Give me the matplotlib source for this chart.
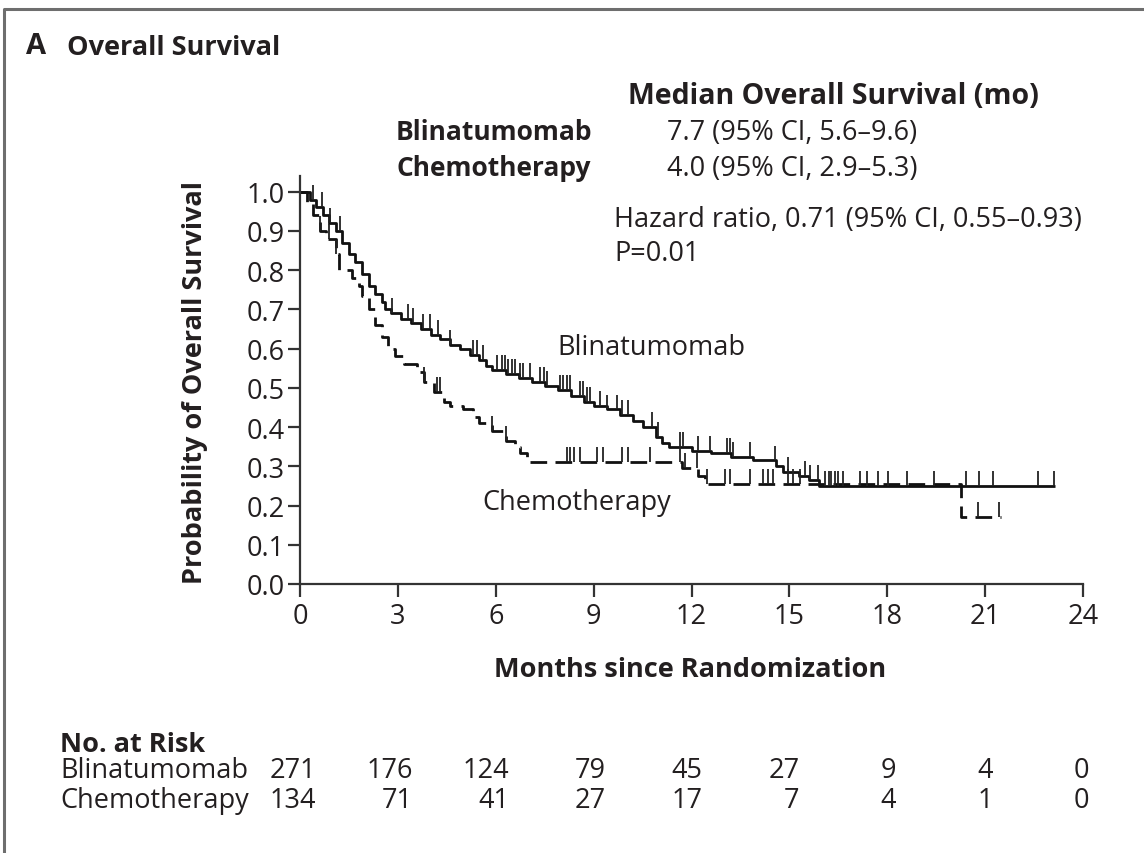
import matplotlib
matplotlib.use("Agg")
import matplotlib.pyplot as plt
from matplotlib.lines import Line2D
import numpy as np

plt.rcParams["font.family"] = ["Open Sans", "DejaVu Sans"]

# Kaplan-Meier steps (months, survival after the drop)
blin_t = [0.0, 0.3, 0.5, 0.7, 0.9, 1.1, 1.3, 1.5, 1.7, 1.9, 2.1, 2.3, 2.5, 2.6, 2.8,
          3.1, 3.4, 3.7, 4.0, 4.3, 4.6, 4.9, 5.2, 5.5, 5.7, 5.9, 6.3, 6.7, 7.1, 7.5,
          7.9, 8.3, 8.7, 9.0, 9.4, 9.8, 10.2, 10.5, 10.9, 11.1, 11.3, 12.0, 12.6,
          13.2, 13.9, 14.6, 14.8, 15.3, 15.6, 15.9]
blin_s = [1.0, 0.98, 0.96, 0.94, 0.92, 0.90, 0.87, 0.84, 0.82, 0.79, 0.76, 0.74, 0.72,
          0.70, 0.69, 0.675, 0.665, 0.65, 0.635, 0.625, 0.61, 0.60, 0.585, 0.57, 0.555,
          0.545, 0.535, 0.525, 0.515, 0.505, 0.495, 0.48, 0.465, 0.455, 0.445, 0.43,
          0.415, 0.40, 0.375, 0.36, 0.35, 0.34, 0.335, 0.325, 0.315, 0.30, 0.285,
          0.275, 0.265, 0.25]
blin_end = 23.15
blin_cens = [0.40, 0.67, 0.92, 1.23, 2.82, 3.31, 3.47, 3.77, 3.99, 4.23, 4.60, 5.31, 5.43,
             5.61, 6.04, 6.20, 6.29, 6.38, 6.50, 6.60, 6.75, 6.84, 7.06, 7.36, 7.48, 7.58,
             7.98, 8.07, 8.19, 8.28, 8.59, 8.68, 8.80, 8.90, 9.20, 9.42, 9.72, 9.88,
             10.06, 10.80, 10.98, 11.66, 11.75, 12.21, 12.58, 13.10, 13.19, 13.28, 13.80,
             14.57, 14.97, 15.49, 15.64, 15.89, 16.10, 16.20, 16.29, 16.41, 16.50, 16.63,
             17.18, 17.39, 17.73, 18.01, 18.62, 19.42, 20.40, 20.80, 21.23, 22.61, 23.10]

chemo_t = [0.0, 0.2, 0.4, 0.6, 0.8, 1.1, 1.2, 1.6, 1.8, 1.9, 2.1, 2.3, 2.5, 2.7, 2.9,
           3.2, 3.6, 3.8, 4.1, 4.4, 4.6, 5.0, 5.3, 5.5, 5.9, 6.3, 6.6, 6.75, 6.95,
           11.7, 12.2, 12.4, 20.25]
chemo_s = [1.0, 0.97, 0.94, 0.90, 0.88, 0.84, 0.80, 0.78, 0.76, 0.735, 0.70, 0.66, 0.63,
           0.60, 0.58, 0.56, 0.54, 0.515, 0.49, 0.465, 0.455, 0.445, 0.425, 0.41, 0.39,
           0.365, 0.35, 0.335, 0.31, 0.295, 0.275, 0.255, 0.17]
chemo_end = 21.5
chemo_cens = [0.6, 0.9, 1.1, 3.8, 4.2, 4.3, 5.9, 6.3, 8.19, 8.28, 8.40, 8.59, 9.11, 9.29,
              9.88, 10.06, 10.74, 11.66, 11.81, 12.18, 12.48, 13.04, 13.19, 13.80, 14.20,
              14.36, 14.51, 14.97, 15.12, 15.34, 20.77, 21.44]

risk_times = [0, 3, 6, 9, 12, 15, 18, 21, 24]
risk_blin = [271, 176, 124, 79, 45, 27, 9, 4, 0]
risk_chemo = [134, 71, 41, 27, 17, 7, 4, 1, 0]

TXT = "#231f20"
FS = 19.5        # body text size
W, H = 1144, 854


def fx(px):
    return px / W


def fy(py):
    return 1 - py / H


def km_at(t, s, x):
    idx = np.searchsorted(t, x, side="right") - 1
    return np.asarray(s)[idx]


fig = plt.figure(figsize=(W / 100, H / 100), dpi=100)
ax = fig.add_axes([fx(300), fy(585), fx(1083) - fx(300), fy(177) - fy(585)])

# curves
bt = list(blin_t) + [blin_end]
bs = list(blin_s) + [blin_s[-1]]
ax.step(bt, bs, where="post", color="#111111", lw=2.0, solid_capstyle="butt")
ct = list(chemo_t) + [chemo_end]
cs = list(chemo_s) + [chemo_s[-1]]
ax.step(ct, cs, where="post", color="#111111", lw=2.0, linestyle=(0, (6, 3)))

# censor marks
tick_h = 0.038
yb = km_at(blin_t, blin_s, blin_cens)
ax.vlines(blin_cens, yb, yb + tick_h, color="#222222", lw=1.3)
yc = km_at(chemo_t, chemo_s, chemo_cens)
ax.vlines(chemo_cens, yc, yc + tick_h, color="#222222", lw=1.3)

ax.set_xlim(0, 24)
ax.set_ylim(0, 1.04)
ax.set_xticks(range(0, 25, 3))
ax.set_yticks(np.arange(0, 1.01, 0.1))
ax.set_yticklabels([f"{v:.1f}" for v in np.arange(0, 1.01, 0.1)])
ax.spines[["top", "right"]].set_visible(False)
for sp in ax.spines.values():
    sp.set_linewidth(1.6)
    sp.set_color("#333333")
ax.spines["bottom"].set_bounds(0, 24)
ax.tick_params(axis="both", direction="out", length=9, width=1.6, color="#333333",
               labelsize=FS, labelcolor=TXT)
ax.tick_params(axis="x", pad=4)
ax.tick_params(axis="y", pad=2)

# curve labels
ax.text(7.9, 0.605, "Blinatumomab", fontsize=FS, color=TXT, va="center", ha="left")
ax.text(5.6, 0.21, "Chemotherapy", fontsize=FS, color=TXT, va="center", ha="left")

# axis titles
fig.text(fx(195), fy(383), "Probability of Overall Survival", rotation=90,
         fontsize=FS, fontweight="bold", color=TXT, ha="center", va="center")
fig.text(fx(690), fy(670), "Months since Randomization", fontsize=FS,
         fontweight="bold", color=TXT, ha="center", va="center")

# panel title
fig.text(fx(26), fy(47), "A", fontsize=21, fontweight="bold", color=TXT, va="center")
fig.text(fx(67), fy(48), "Overall Survival", fontsize=FS, fontweight="bold",
         color=TXT, va="center")

# median OS block
fig.text(fx(628), fy(96), "Median Overall Survival (mo)", fontsize=20.5,
         fontweight="bold", color=TXT, va="center")
fig.text(fx(396), fy(133), "Blinatumomab", fontsize=19, fontweight="bold",
         color=TXT, va="center")
fig.text(fx(667), fy(133), "7.7 (95% CI, 5.6\u20139.6)", fontsize=FS, color=TXT,
         va="center")
fig.text(fx(396), fy(169), "Chemotherapy", fontsize=19, fontweight="bold",
         color=TXT, va="center")
fig.text(fx(667), fy(169), "4.0 (95% CI, 2.9\u20135.3)", fontsize=FS, color=TXT,
         va="center")
fig.text(fx(614), fy(220), "Hazard ratio, 0.71 (95% CI, 0.55\u20130.93)", fontsize=FS,
         color=TXT, va="center")
fig.text(fx(614), fy(254), "P=0.01", fontsize=FS, color=TXT, va="center")

# number at risk table
fig.text(fx(60), fy(745), "No. at Risk", fontsize=FS, fontweight="bold", color=TXT,
         va="center")
for row, (name, vals) in enumerate([("Blinatumomab", risk_blin),
                                    ("Chemotherapy", risk_chemo)]):
    yy = fy(771 + row * 30)
    fig.text(fx(60), yy, name, fontsize=FS, color=TXT, va="center")
    for t, v in zip(risk_times, vals):
        xpix = 300 + t * (1083 - 300) / 24 + 16 - t * 0.4
        fig.text(fx(xpix), yy, str(v), fontsize=FS, color=TXT, va="center", ha="right")

# panel frame (top and left edges)
fig.add_artist(Line2D([fx(4), fx(4), 1.0], [0.0, fy(10), fy(10)], color="#6e6e6e",
                      lw=2.2, transform=fig.transFigure))

fig.savefig("out.png", dpi=100, facecolor="white")
